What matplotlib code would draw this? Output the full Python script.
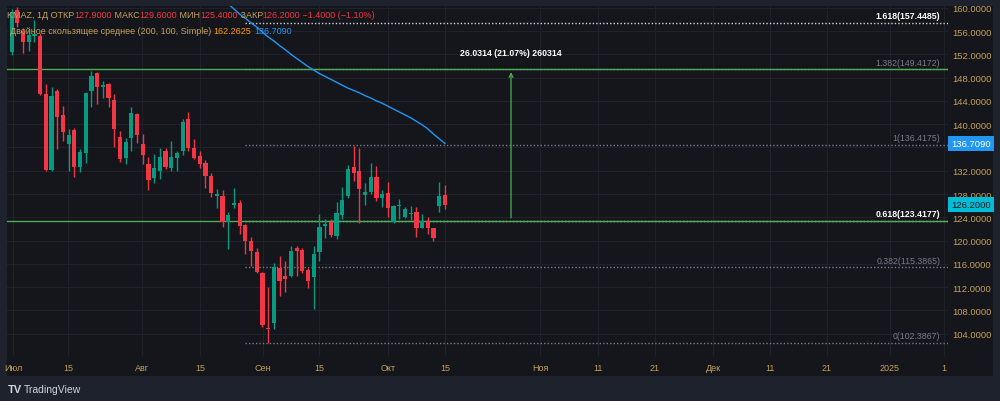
import numpy as np
import matplotlib.pyplot as plt

plt.rcParams['font.family'] = ['Liberation Sans', 'DejaVu Sans']

# KMAZ daily candles, 1 Jul 2024 .. 15 Oct 2024 (one value per trading day)
opens = [152.41, 159.62, 156.07, 154.07, 155.21, 155.21, 145.19, 132.13, 145.76, 141.58,
         136.60, 139.00, 132.60, 135.00, 145.76, 148.75, 146.34, 146.91, 144.16, 137.75,
         134.24, 137.58, 141.75, 136.60, 133.16, 130.81, 132.01, 135.45, 132.42, 134.19,
         135.34, 140.89, 135.86, 134.49, 133.33, 131.15, 127.72, 127.72, 123.15, 126.17,
         126.46, 122.68, 119.93, 118.09, 114.43, 104.98, 105.79, 115.24, 113.92, 113.92,
         118.78, 118.39, 114.95, 113.80, 117.99, 122.46, 123.25, 120.74, 124.40, 127.61,
         132.60, 132.01, 127.89, 128.30, 130.98, 127.32, 128.18, 123.15, 125.89, 124.00,
         124.62, 124.86, 122.17, 123.42, 122.12, 125.89, 127.90]
highs = [159.79, 160.20, 156.53, 156.24, 157.96, 155.67, 146.91, 146.34, 146.00, 143.18,
         139.18, 139.30, 135.74, 145.50, 149.19, 149.00, 147.47, 147.10, 145.19, 138.88,
         137.58, 143.01, 142.00, 138.32, 134.31, 134.88, 135.91, 135.87, 137.06, 135.45,
         140.89, 142.05, 137.46, 135.45, 133.85, 131.56, 128.87, 128.69, 124.97, 128.99,
         126.98, 122.85, 120.57, 118.73, 114.60, 111.98, 116.10, 117.41, 116.55, 119.12,
         119.00, 118.78, 115.24, 119.02, 124.52, 123.71, 123.71, 126.58, 129.16, 132.99,
         136.31, 135.86, 129.90, 133.33, 132.77, 128.69, 130.02, 126.12, 127.15, 125.72,
         125.89, 125.72, 124.57, 124.00, 122.20, 130.02, 129.60]
lows = [151.89, 156.70, 152.18, 152.63, 154.07, 145.10, 131.96, 132.00, 135.74, 137.17,
        132.01, 130.98, 131.74, 133.28, 142.90, 143.47, 144.45, 142.90, 136.03, 133.45,
        133.16, 135.45, 136.72, 133.16, 128.69, 129.90, 130.58, 132.30, 132.01, 132.01,
        134.76, 135.45, 134.02, 132.47, 129.04, 127.44, 125.60, 122.29, 118.56, 125.60,
        121.13, 117.70, 115.69, 114.43, 105.10, 102.39, 104.81, 110.53, 111.12, 113.69,
        113.97, 114.43, 111.80, 108.25, 116.55, 120.45, 120.57, 120.28, 123.71, 127.32,
        130.29, 123.02, 126.12, 128.01, 126.86, 125.72, 124.00, 123.02, 123.71, 123.83,
        123.59, 120.67, 122.12, 121.13, 119.88, 124.97, 125.40]
closes = [159.28, 157.39, 154.07, 155.38, 155.50, 145.19, 132.13, 144.90, 141.19, 138.61,
          138.20, 132.70, 135.28, 145.31, 148.33, 146.34, 146.74, 144.45, 139.18, 134.02,
          136.99, 141.93, 138.15, 134.71, 130.41, 132.42, 134.37, 132.70, 134.37, 135.05,
          140.43, 135.86, 134.14, 133.16, 131.05, 128.18, 128.01, 123.15, 124.40, 126.46,
          122.56, 119.93, 118.21, 114.66, 105.50, 104.76, 115.52, 113.11, 113.40, 118.27,
          118.27, 114.73, 113.11, 117.70, 122.39, 122.85, 120.96, 124.74, 127.03, 132.30,
          131.62, 128.87, 128.40, 130.88, 127.32, 128.01, 125.55, 126.00, 126.12, 125.43,
          124.74, 122.17, 123.32, 122.12, 120.50, 127.61, 126.20]
day_change = -1.4
day_change_pct = -1.10

# SMA(100) part that is inside the visible price range, from bar 36
ma_first_bar = 36
ma100 = [162.4, 161.5, 160.65, 159.8, 158.9, 158.2, 157.4, 156.7, 155.8, 155.0,
         154.3, 153.5, 152.8, 152.0, 151.3, 150.6, 149.9, 149.3, 148.7, 148.2,
         147.7, 147.2, 146.7, 146.2, 145.8, 145.4, 144.9, 144.5, 144.0, 143.6,
         143.1, 142.6, 142.1, 141.6, 141.1, 140.5, 139.9, 139.2, 138.3, 137.5, 136.71]

fib_ratios = ['0', '0.382', '0.618', '1', '1.382', '1.618']
fib_prices = [102.3867, 115.3865, 123.4177, 136.4175, 149.4172, 157.4485]
fib_bright = [False, False, True, False, False, True]
fib_first_bar = 41
green_lines = [149.4172, 123.4177]
measure_bar = 87.6
measure_label = '26.0314 (21.07%) 260314'

time_ticks = [0.23, 9.88, 22.86, 33.04, 44.09, 53.91, 66.02, 76.02, 92.68, 102.86,
              112.86, 123.04, 133.04, 143.04, 154.09, 163.56]
time_labels = ['Июл', '15', 'Авг', '15', 'Сен', '15', 'Окт', '15', 'Ноя', '11',
               '21', 'Дек', '11', '21', '2025', '1']
price_ticks = list(range(104, 161, 4))
ma_last = 136.709
ma200_last = 162.2625

W, H = 1000, 402
BG = '#1e222d'
PANEL = '#14161c'
GRID = '#1f222a'
GOLD = '#c4a05a'
UP = '#089981'
DN = '#f23645'

fig = plt.figure(figsize=(W / 100, H / 100), dpi=100, facecolor=BG)
fig.patches.append(plt.Rectangle((7 / W, 25 / H), 986 / W, 370 / H,
                                 transform=fig.transFigure, fc=PANEL, ec='none', zorder=-10))

ax = fig.add_axes([7 / W, 45 / H, 941 / W, 350 / H])
ax.set_zorder(1)
ax.set_facecolor('none')
ax.set_xlim(-0.82, 164.26)
ax.set_ylim(100.17, 160.31)
for s in ax.spines.values():
    s.set_visible(False)

idx = np.arange(len(opens))
o = np.array(opens)
c = np.array(closes)
cols = [UP if cc >= oo else DN for oo, cc in zip(o, c)]
ax.vlines(idx, lows, highs, colors=cols, lw=1, zorder=3)
ax.bar(idx, np.maximum(np.abs(c - o), 0.2), bottom=np.minimum(o, c), width=0.74,
       color=cols, lw=0, zorder=4)

ax.plot(np.arange(ma_first_bar, ma_first_bar + len(ma100)), ma100, color='#2196f3', lw=1, zorder=5)

# fib extension levels
xr = ax.get_xlim()[1]
for r, p, b in zip(fib_ratios, fib_prices, fib_bright):
    ax.hlines(p, fib_first_bar, xr, colors='#d1d4dc' if b else '#787b86', lw=1,
              linestyles=(0, (1, 1.5)), zorder=2)
    ax.text(162.9, p + 0.45, f'{r}({p:.4f})', ha='right', va='bottom', fontsize=6.3,
            color='#ffffff' if b else '#787b86', fontweight='bold' if b else 'normal', zorder=6)
for p in green_lines:
    ax.axhline(p, color='#4caf50', lw=1, zorder=2)

ax.annotate('', xy=(measure_bar, green_lines[0]), xytext=(measure_bar, green_lines[1]),
            arrowprops=dict(arrowstyle='->', color='#4caf50', lw=0.9, mutation_scale=7), zorder=5)
ax.text(measure_bar, 151.6, measure_label, ha='center', va='bottom', fontsize=6.3,
        color='#ffffff', fontweight='bold', zorder=6)

ax.set_xticks(time_ticks)
ax.set_xticklabels(time_labels)
ax.set_yticks(price_ticks)
# the 136 label sits under the SMA price tag
ax.set_yticklabels(['' if v == 136 else f'{v:.4f}' for v in price_ticks])
ax.yaxis.tick_right()
ax.tick_params(axis='x', length=0, pad=5, labelsize=6.5, labelcolor=GOLD)
ax.tick_params(axis='y', length=0, pad=3, labelsize=6.8, labelcolor=GOLD)
ax.grid(True, color=GRID, lw=0.8, zorder=0)

ty = ax.get_yaxis_transform()
ax.text(1.003, ma_last, f'{ma_last:.4f}', transform=ty, ha='left', va='center', fontsize=6.8,
        color='white', bbox=dict(boxstyle='square,pad=0.35', fc='#2196f3', ec='none'),
        clip_on=False, zorder=8)
ax.text(1.003, closes[-1], f'{closes[-1]:.4f}', transform=ty, ha='left', va='center', fontsize=6.8,
        color='#131722', bbox=dict(boxstyle='square,pad=0.35', fc='#00bcd4', ec='none'),
        clip_on=False, zorder=8)

# legend rows, pieces placed one after another
rend = fig.canvas.get_renderer()


def text_row(parts, x0, y0, size=6.5):
    x = x0
    for s, col in parts:
        t = fig.text(x / W, 1 - y0 / H, s, color=col, fontsize=size, ha='left', va='center', zorder=7)
        x += t.get_window_extent(renderer=rend).width


text_row([('KMAZ, 1Д ОТКР', GOLD), (f'{opens[-1]:.4f}', DN), (' МАКС', GOLD), (f'{highs[-1]:.4f}', DN),
          (' МИН', GOLD), (f'{lows[-1]:.4f}', DN), (' ЗАКР', GOLD), (f'{closes[-1]:.4f}', DN),
          (f' −{abs(day_change):.4f} (−{abs(day_change_pct):.2f}%)', DN)], 7, 16)
text_row([('Двойное скользящее среднее (200, 100, Simple) ', GOLD), (f'{ma200_last:.4f}', '#ff9800'),
          (' ', GOLD), (f'{ma_last:.4f}', '#2196f3')], 10, 31)

fig.text(8 / W, 1 - 390 / H, 'TV', color='#d1d4dc', fontsize=8, fontweight='bold', va='center')
fig.text(24 / W, 1 - 390 / H, 'TradingView', color='#d1d4dc', fontsize=7.5, va='center')

fig.savefig('out.png', dpi=100, facecolor=BG)
